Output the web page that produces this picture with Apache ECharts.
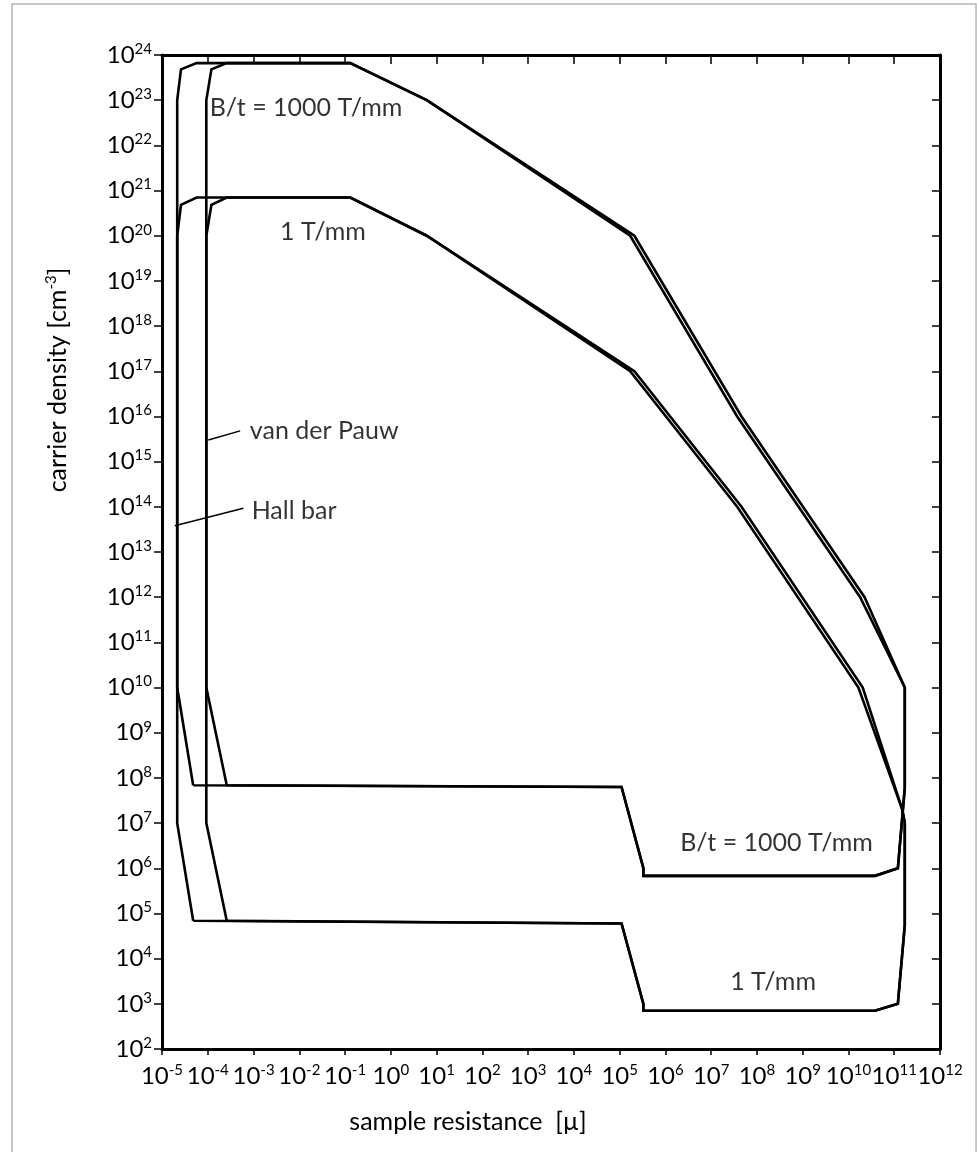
<!DOCTYPE html>
<html>
<head>
<meta charset="utf-8">
<title>Hall measurement range</title>
<script src="https://cdn.jsdelivr.net/npm/echarts@6/dist/echarts.min.js"></script>
<style>
    html, body { margin: 0; padding: 0; background: #fff; }
    #chart { width: 977px; height: 1152px; }
</style>
</head>
<body>
<div id="chart"></div>
<script>
// decade exponents shown on the axes
const xDecades = [-5, -4, -3, -2, -1, 0, 1, 2, 3, 4, 5, 6, 7, 8, 9, 10, 11, 12]
const yDecades = [2, 3, 4, 5, 6, 7, 8, 9, 10, 11, 12, 13, 14, 15, 16, 17, 18, 19, 20, 21, 22, 23, 24]

// outlines: [sample resistance, carrier density]
const hallHigh = [
    [4.8e-5, 6.9e7], [2.15e-5, 1e10], [2.15e-5, 1e23], [2.6e-5, 4.8e23], [5.7e-5, 6.6e23],
    [0.13, 6.6e23], [6.1, 1e23], [1.7e5, 1e20], [3.7e7, 1e16], [1.8e10, 1e12], [1.7e11, 1e10],
    [1.7e11, 6e7], [1.2e11, 1e6], [3.8e10, 6.8e5], [3.3e5, 6.8e5], [3.3e5, 1e6], [1.1e5, 6.3e7],
    [4.8e-5, 6.9e7]
]
const vdpHigh = [
    [2.6e-4, 6.9e7], [9.3e-5, 1e10], [9.3e-5, 1e23], [1.2e-4, 4.8e23], [2.6e-4, 6.6e23],
    [0.13, 6.6e23], [6.1, 1e23], [2.1e5, 1e20], [4.6e7, 1e16], [2.25e10, 1e12], [1.7e11, 1e10],
    [1.7e11, 6e7], [1.2e11, 1e6], [3.8e10, 6.8e5], [3.3e5, 6.8e5], [3.3e5, 1e6], [1.1e5, 6.3e7],
    [2.6e-4, 6.9e7]
]
const hallLow = [
    [4.8e-5, 6.9e4], [2.15e-5, 1e7], [2.15e-5, 1e20], [2.6e-5, 4.8e20], [5.7e-5, 7e20],
    [0.13, 7e20], [6.1, 1e20], [1.7e5, 1e17], [3.7e7, 1e14], [1.65e10, 1e10], [1.5e11, 2e7],
    [1.7e11, 1e7], [1.7e11, 5.5e4], [1.2e11, 1e3], [3.8e10, 7e2], [3.3e5, 7e2], [3.3e5, 1e3],
    [1.1e5, 6e4], [4.8e-5, 6.9e4]
]
const vdpLow = [
    [2.6e-4, 6.9e4], [9.3e-5, 1e7], [9.3e-5, 1e20], [1.2e-4, 4.8e20], [2.6e-4, 7e20],
    [0.13, 7e20], [6.1, 1e20], [2.1e5, 1e17], [4.6e7, 1e14], [2.05e10, 1e10], [1.5e11, 2e7],
    [1.7e11, 1e7], [1.7e11, 5.5e4], [1.2e11, 1e3], [3.8e10, 7e2], [3.3e5, 7e2], [3.3e5, 1e3],
    [1.1e5, 6e4], [2.6e-4, 6.9e4]
]

// text notes (left edge of text) and leader lines
const noteText = ['B/t = 1000 T/mm', '1 T/mm', 'B/t = 1000 T/mm', '1 T/mm', 'van der Pauw', 'Hall bar']
const noteX = [1.1e-4, 3.8e-3, 2.1e6, 2.6e7, 8.3e-4, 9.1e-4]
const noteY = [6.7e22, 1.2e20, 3.6e6, 3.1e3, 4.8e15, 8.1e13]
const vdpLeader = [[1.03e-4, 3e15], [5.1e-4, 4.8e15]]
const hallLeader = [[1.9e-5, 3.8e13], [6e-4, 9.3e13]]

const FONT = 'Lato, "Open Sans", sans-serif'
const lg = v => Math.log10(v)
const toLog = arr => arr.map(p => [lg(p[0]), lg(p[1])])

const supRich = {
    b: { fontSize: 24, fontFamily: FONT, color: '#000', lineHeight: 27 },
    s: { fontSize: 15, fontFamily: FONT, color: '#000', verticalAlign: 'top', lineHeight: 27 }
}
const decadeLabel = v => '{b|10}{s|' + Math.round(v) + '}'

function axisX(pos, inside) {
    return {
        type: 'value',
        position: pos,
        min: xDecades[0],
        max: xDecades[xDecades.length - 1],
        interval: 1,
        axisLine: { show: true, onZero: false, lineStyle: { color: '#000', width: 3 } },
        axisTick: { show: true, inside: inside, length: inside ? 9 : 6, lineStyle: { color: '#000', width: 1.5 } },
        axisLabel: { show: !inside, interval: 0, margin: 14, formatter: decadeLabel, rich: supRich },
        splitLine: { show: false }
    }
}
function axisY(pos, inside) {
    return {
        type: 'value',
        position: pos,
        min: yDecades[0],
        max: yDecades[yDecades.length - 1],
        interval: 1,
        axisLine: { show: true, onZero: false, lineStyle: { color: '#000', width: 3 } },
        axisTick: { show: true, inside: inside, length: 8, lineStyle: { color: '#000', width: 1.5 } },
        axisLabel: { show: !inside, interval: 0, margin: 10, formatter: decadeLabel, rich: supRich },
        splitLine: { show: false }
    }
}

function outline(name, arr) {
    return {
        name: name,
        type: 'line',
        data: toLog(arr),
        showSymbol: false,
        symbol: 'none',
        silent: true,
        lineStyle: { color: '#000', width: 2.6, join: 'miter' },
        z: 3
    }
}

const chart = echarts.init(document.getElementById('chart'))

const xBottom = axisX('bottom', false)
xBottom.name = 'sample resistance  [\u00b5]'
xBottom.nameLocation = 'middle'
xBottom.nameGap = 60
xBottom.nameTextStyle = { fontSize: 25, fontFamily: FONT, color: '#000', padding: [0, 166, 0, 0] }

const yLeft = axisY('left', false)
yLeft.name = '{a|carrier density [cm}{s|-3}{a|]}'
yLeft.nameLocation = 'middle'
yLeft.nameGap = 90
yLeft.nameTextStyle = {
    padding: [0, 0, 0, 344],
    rich: {
        a: { fontSize: 25, fontFamily: FONT, color: '#000', lineHeight: 28 },
        s: { fontSize: 15, fontFamily: FONT, color: '#000', verticalAlign: 'top', lineHeight: 28 }
    }
}

chart.setOption({
    animation: false,
    backgroundColor: '#fff',
    grid: { left: 162, right: 37, top: 55, bottom: 103 },
    xAxis: [xBottom, axisX('top', true)],
    yAxis: [yLeft, axisY('right', true)],
    graphic: [{
        type: 'rect',
        shape: { x: 12, y: 4, width: 964, height: 1160 },
        style: { fill: 'none', stroke: '#b4b4b4', lineWidth: 1.5 },
        silent: true,
        z: -10
    }],
    series: [
        outline('Hall bar, 1000 T/mm', hallHigh),
        outline('van der Pauw, 1000 T/mm', vdpHigh),
        outline('Hall bar, 1 T/mm', hallLow),
        outline('van der Pauw, 1 T/mm', vdpLow),
        {
            name: 'notes',
            type: 'scatter',
            symbolSize: 0,
            silent: true,
            data: noteText.map((t, i) => ({ name: t, value: [lg(noteX[i]), lg(noteY[i])] })),
            label: {
                show: true,
                position: 'right',
                distance: 0,
                formatter: p => p.name,
                fontSize: 25,
                fontFamily: FONT,
                color: '#000'
            },
            markLine: {
                silent: true,
                symbol: 'none',
                label: { show: false },
                lineStyle: { color: '#000', width: 1.5, type: 'solid' },
                data: [vdpLeader, hallLeader].map(seg => [
                    { coord: [lg(seg[0][0]), lg(seg[0][1])] },
                    { coord: [lg(seg[1][0]), lg(seg[1][1])] }
                ])
            }
        }
    ]
})
</script>
</body>
</html>
